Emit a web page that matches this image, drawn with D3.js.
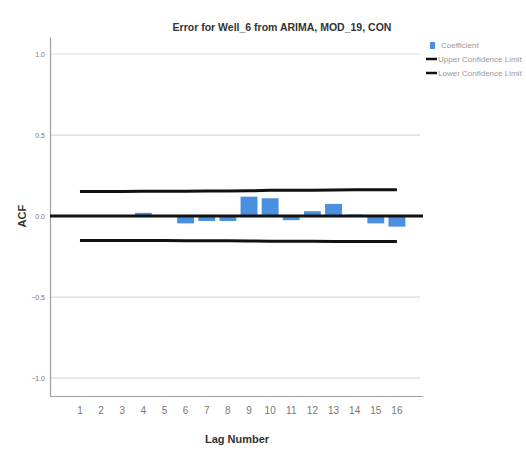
<!DOCTYPE html>
<html><head><meta charset="utf-8">
<script src="https://cdn.jsdelivr.net/npm/d3@7"></script>
<style>body{margin:0;background:#fff}svg{display:block}</style>
</head><body>
<svg id="c" width="526" height="451"></svg>
<script>
const lags = [1,2,3,4,5,6,7,8,9,10,11,12,13,14,15,16];
const coefficient = [0.003,-0.002,0.002,0.02,0.004,-0.045,-0.03,-0.03,0.12,0.11,-0.025,0.03,0.075,0.01,-0.045,-0.065];
const upperLimit = [0.152,0.152,0.152,0.153,0.153,0.154,0.155,0.155,0.156,0.159,0.160,0.160,0.161,0.162,0.162,0.163];
const lowerLimit = [-0.150,-0.150,-0.150,-0.151,-0.151,-0.152,-0.152,-0.152,-0.153,-0.155,-0.155,-0.155,-0.156,-0.156,-0.156,-0.157];
const yTicks = [1.0,0.5,0.0,-0.5,-1.0];
const legendLabels = ["Coefficient","Upper Confidence Limit","Lower Confidence Limit"];
const title = "Error for Well_6 from ARIMA, MOD_19, CON";

const svg = d3.select("#c");
const font = "'Liberation Sans Narrow','Liberation Sans',Arial,sans-serif";
const x = d3.scaleBand().domain(lags).range([69.4,407.5]).paddingInner(0.2).paddingOuter(0.1);
const y = d3.scaleLinear().domain([-1.11,1.105]).range([396,37]);
const plotL = 50, plotR = 423;

// gridlines
svg.append("g").selectAll("line").data(yTicks.filter(d=>d!==0)).join("line")
  .attr("x1",plotL).attr("x2",420).attr("y1",d=>y(d)).attr("y2",d=>y(d))
  .attr("stroke","#d9d9d9").attr("stroke-width",1.2);

// axes
const ya = svg.append("g").attr("transform",`translate(${plotL},0)`)
  .call(d3.axisLeft(y).tickValues(yTicks).tickSize(0).tickPadding(5).tickFormat(d3.format(".1f")));
ya.select(".domain").attr("stroke","#a0a0a0").attr("stroke-width",1.2);
ya.selectAll("text").attr("font-family",font).attr("font-size",7).attr("fill","#777");

const xa = svg.append("g").attr("transform","translate(0,396)")
  .call(d3.axisBottom(x).tickSize(0).tickPadding(11));
xa.select(".domain").attr("d",`M${plotL},0.5H${plotR}`).attr("stroke","#a0a0a0").attr("stroke-width",1.2);
xa.selectAll("text").attr("font-family",font).attr("font-size",10).attr("fill","#777");

// bars
svg.append("g").selectAll("rect").data(lags).join("rect")
  .attr("x",d=>x(d)).attr("width",x.bandwidth())
  .attr("y",(d,i)=>y(Math.max(0,coefficient[i])))
  .attr("height",(d,i)=>Math.abs(y(coefficient[i])-y(0)))
  .attr("fill","#4a8fe0");

// confidence lines
const cl = d3.line().x((d,i)=>x(lags[i])+x.bandwidth()/2).y(d=>y(d));
svg.append("path").attr("d",cl(upperLimit)).attr("fill","none").attr("stroke","#111").attr("stroke-width",3);
svg.append("path").attr("d",cl(lowerLimit)).attr("fill","none").attr("stroke","#111").attr("stroke-width",3);

// zero reference line
svg.append("line").attr("x1",plotL).attr("x2",plotR).attr("y1",y(0)).attr("y2",y(0))
  .attr("stroke","#111").attr("stroke-width",3);

// title
svg.append("text").attr("x",282).attr("y",31).attr("text-anchor","middle")
  .attr("font-family",font).attr("font-size",10.5).attr("font-weight","bold").attr("fill","#333").text(title);

// axis titles
svg.append("text").attr("transform",`translate(26,${y(0)}) rotate(-90)`).attr("text-anchor","middle")
  .attr("font-family",font).attr("font-size",11).attr("font-weight","bold").attr("fill","#333").text("ACF");
svg.append("text").attr("x",237).attr("y",443).attr("text-anchor","middle")
  .attr("font-family",font).attr("font-size",11).attr("font-weight","bold").attr("fill","#333").text("Lag Number");

// legend
const lg = svg.append("g");
lg.append("rect").attr("x",430).attr("y",42).attr("width",5).attr("height",7).attr("fill","#4a8fe0");
[59,73].forEach(yy=>lg.append("line").attr("x1",426).attr("x2",437).attr("y1",yy).attr("y2",yy).attr("stroke","#111").attr("stroke-width",2.5));
const ly = [48,62,76];
lg.selectAll("text").data(legendLabels).join("text")
  .attr("x",(d,i)=>i===0?441:438).attr("y",(d,i)=>ly[i])
  .attr("font-family",font).attr("font-size",8).attr("fill","#999").text(d=>d);
</script>
</body></html>
